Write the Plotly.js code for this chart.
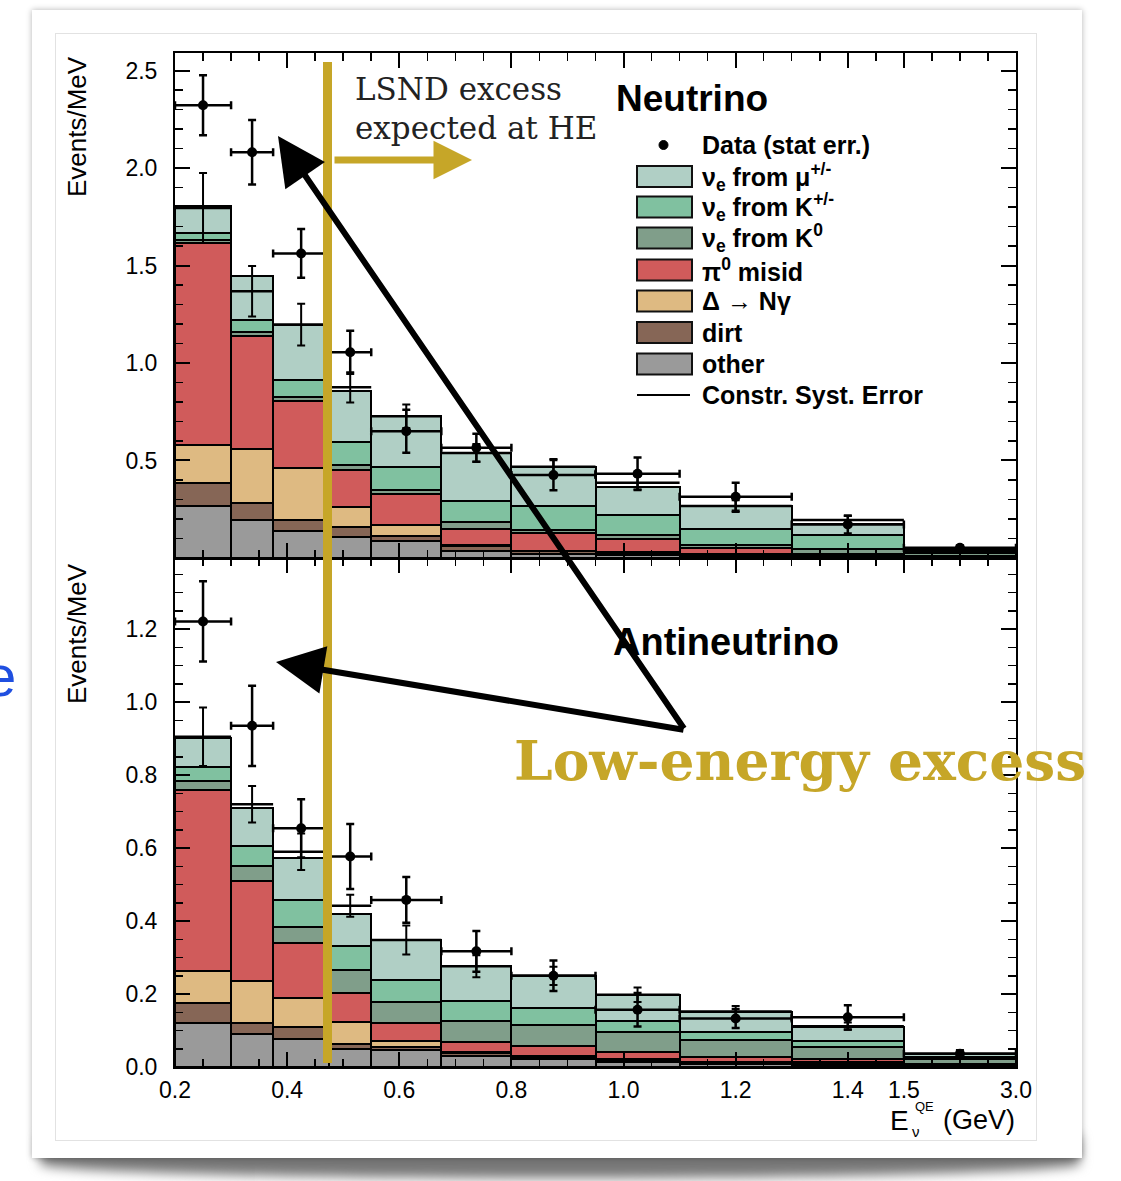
<!DOCTYPE html>
<html><head><meta charset="utf-8">
<script src="https://cdn.plot.ly/plotly-3.0.1.min.js"></script>
<style>
html,body{margin:0;padding:0;background:#fff;}
#wrap{position:relative;width:1121px;height:1181px;overflow:hidden;background:#fff;}
#curl{position:absolute;left:40px;top:1136px;width:1040px;height:42px;background:#777;filter:blur(6px);border-radius:0 0 50% 50% / 0 0 35% 35%;}
#card{position:absolute;left:32px;top:10px;width:1050px;height:1148px;background:#fff;box-shadow:0 0 6px rgba(0,0,0,0.3);}
#inner{position:absolute;left:55px;top:33px;width:980px;height:1106px;border:1px solid #e2e2e2;}
#plot{position:absolute;left:0;top:0;width:1121px;height:1181px;}
</style></head>
<body><div id="wrap"><div id="curl"></div><div id="card"></div><div id="inner"></div><div id="plot"></div></div>
<script>
// ---------- data ----------
const binEdges = [0.2,0.3,0.375,0.475,0.55,0.675,0.8,0.95,1.1,1.3,1.5,3.0];
const xTickVals = [0.2,0.4,0.6,0.8,1.0,1.2,1.4,1.5,3.0];
const xTickText = ['0.2','0.4','0.6','0.8','1.0','1.2','1.4','1.5','3.0'];
const yTopTicks = [0.5,1.0,1.5,2.0,2.5];
const yBotTicks = [0.0,0.2,0.4,0.6,0.8,1.0,1.2];

// Neutrino mode (top panel), Events/MeV per component
const nuOther = [0.266,0.197,0.138,0.107,0.086,0.035,0.018,0.015,0.010,0.005,0.003];
const nuDirt  = [0.120,0.086,0.059,0.051,0.026,0.026,0.017,0.012,0.006,0.003,0.002];
const nuDelta = [0.193,0.277,0.266,0.104,0.058,0.005,0.003,0.002,0.002,0.002,0.001];
const nuPi0   = [1.034,0.581,0.341,0.187,0.160,0.084,0.091,0.066,0.034,0.010,0.004];
const nuK0    = [0.017,0.017,0.021,0.027,0.017,0.034,0.017,0.025,0.017,0.024,0.015];
const nuKpm   = [0.038,0.065,0.090,0.118,0.119,0.107,0.120,0.098,0.081,0.076,0.013];
const nuMu    = [0.136,0.222,0.282,0.261,0.261,0.248,0.202,0.144,0.116,0.055,0.010];
const nuMcTotal = [1.795,1.368,1.197,0.875,0.727,0.539,0.468,0.386,0.266,0.195,0.050];
const nuMcErr   = [0.180,0.130,0.107,0.077,0.060,0.045,0.040,0.035,0.030,0.020,0.005];
const nuData    = [2.322,2.081,1.562,1.055,0.650,0.565,0.425,0.432,0.314,0.172,0.052];
const nuDataErr = [0.154,0.165,0.125,0.110,0.110,0.072,0.078,0.083,0.072,0.046,0.012];

// Antineutrino mode (bottom panel)
const nbOther = [0.120,0.090,0.077,0.049,0.046,0.030,0.022,0.015,0.008,0.006,0.002];
const nbDirt  = [0.055,0.030,0.032,0.014,0.010,0.008,0.006,0.005,0.003,0.003,0.002];
const nbDelta = [0.087,0.116,0.079,0.059,0.016,0.002,0.003,0.002,0.002,0.004,0.001];
const nbPi0   = [0.498,0.273,0.151,0.081,0.048,0.028,0.027,0.018,0.014,0.009,0.003];
const nbK0    = [0.024,0.043,0.046,0.063,0.057,0.059,0.057,0.055,0.047,0.032,0.014];
const nbKpm   = [0.037,0.053,0.073,0.066,0.061,0.055,0.048,0.032,0.023,0.018,0.006];
const nbMu    = [0.082,0.105,0.114,0.087,0.109,0.094,0.087,0.071,0.055,0.037,0.008];
const nbMcTotal = [0.905,0.720,0.590,0.442,0.348,0.276,0.250,0.198,0.152,0.112,0.036];
const nbMcErr   = [0.080,0.050,0.050,0.030,0.040,0.030,0.025,0.020,0.015,0.010,0.003];
const nbData    = [1.221,0.935,0.654,0.577,0.458,0.317,0.250,0.157,0.133,0.136,0.036];
const nbDataErr = [0.110,0.110,0.080,0.089,0.063,0.056,0.042,0.046,0.026,0.033,0.010];

const compNames  = ['other','dirt','Δ → Nγ','π0 misid','νe from K0','νe from K+/-','νe from μ+/-'];
const compColors = ['#9a9a9a','#866656','#deba82','#d05b5b','#809e8a','#80c1a0','#b0cfc5'];
const legendLabels = ['ν<sub>e</sub> from μ<sup>+/-</sup>','ν<sub>e</sub> from K<sup>+/-</sup>','ν<sub>e</sub> from K<sup>0</sup>','π<sup>0</sup> misid','Δ → Nγ','dirt','other'];
const legendColors = ['#b0cfc5','#80c1a0','#809e8a','#d05b5b','#deba82','#866656','#9a9a9a'];

// ---------- helpers ----------
const FONT = 'Liberation Sans, Arial, Helvetica, sans-serif';
const GOLD = '#c6a628';
// x axis is linear up to 1.5 GeV, last bin (1.5-3.0) compressed
function disp(e){ return e <= 1.5 ? e : 1.5 + (e - 1.5) * (0.2 / 1.5); }
const lo = binEdges.slice(0,-1).map(disp), hi = binEdges.slice(1).map(disp);
const centers = lo.map((l,i)=>(l+hi[i])/2);
const widths = lo.map((l,i)=>hi[i]-l);
const halfW = widths.map(w=>w/2);
// paper coordinates from pixel positions (plot area 175..1016 x 53..1067)
const P = x => (x-175)/841, Q = y => (1067-y)/1014;

const traces = [];
function addPanel(comps, mcTot, mcErr, data, dataErr, xa, ya){
  comps.forEach((vals,k)=>{
    traces.push({type:'bar', x:centers, y:vals, width:widths, name:compNames[k],
      marker:{color:compColors[k], line:{color:'#000', width:2}},
      xaxis:xa, yaxis:ya, showlegend:false, hoverinfo:'skip'});
  });
  const lx=[], ly=[];
  mcTot.forEach((t,i)=>{ lx.push(lo[i],hi[i],null); ly.push(t,t,null); });
  traces.push({type:'scatter', mode:'lines', x:lx, y:ly, line:{color:'#000', width:2.5},
    xaxis:xa, yaxis:ya, showlegend:false, hoverinfo:'skip'});
  traces.push({type:'scatter', mode:'markers', x:centers, y:mcTot,
    marker:{color:'rgba(0,0,0,0)', size:2},
    error_y:{type:'data', array:mcErr, visible:true, color:'#000', thickness:2, width:4},
    xaxis:xa, yaxis:ya, showlegend:false, hoverinfo:'skip'});
  traces.push({type:'scatter', mode:'markers', x:centers, y:data,
    marker:{color:'#000', size:10},
    error_y:{type:'data', array:dataErr, visible:true, color:'#000', thickness:2.5, width:4},
    error_x:{type:'data', array:halfW, visible:true, color:'#000', thickness:2.5, width:4},
    xaxis:xa, yaxis:ya, showlegend:false, hoverinfo:'skip'});
}
addPanel([nuOther,nuDirt,nuDelta,nuPi0,nuK0,nuKpm,nuMu], nuMcTotal, nuMcErr, nuData, nuDataErr, 'x2','y2');
addPanel([nbOther,nbDirt,nbDelta,nbPi0,nbK0,nbKpm,nbMu], nbMcTotal, nbMcErr, nbData, nbDataErr, 'x','y');

const axBase = {showline:true, linewidth:2, linecolor:'#000', mirror:'ticks', ticks:'inside',
  ticklen:15, tickwidth:2, tickcolor:'#000', showgrid:false, zeroline:false,
  tickfont:{family:FONT, size:23, color:'#000'}};
const xRange = [0.2, disp(3.0)];
const xMinor = {ticks:'inside', dtick:0.05, tick0:0.2, ticklen:8, tickwidth:1.5, tickcolor:'#000', showgrid:false};

const shapes = [];
const annotations = [];
// gold line at the LSND high-energy threshold
shapes.push({type:'line', xref:'x', yref:'paper', x0:0.472, x1:0.472, y0:Q(1063), y1:Q(62),
  line:{color:GOLD, width:9}});
// legend
const rowY = [176.5,207,238,270,301,332.5,364];
legendLabels.forEach((lab,i)=>{
  shapes.push({type:'rect', xref:'paper', yref:'paper', x0:P(637), x1:P(692), y0:Q(rowY[i]+10.5), y1:Q(rowY[i]-10.5),
    fillcolor:legendColors[i], line:{color:'#111', width:2}});
  annotations.push({xref:'paper', yref:'paper', x:P(700), y:Q(rowY[i]), xanchor:'left', yanchor:'middle',
    text:'<b>'+lab+'</b>', showarrow:false, font:{family:FONT, size:25, color:'#000'}});
});
shapes.push({type:'circle', xref:'paper', yref:'paper', x0:P(659), x1:P(668), y0:Q(149.5), y1:Q(140.5),
  fillcolor:'#000', line:{color:'#000', width:1}});
annotations.push({xref:'paper', yref:'paper', x:P(700), y:Q(145), xanchor:'left', yanchor:'middle',
  text:'<b>Data (stat err.)</b>', showarrow:false, font:{family:FONT, size:25, color:'#000'}});
shapes.push({type:'line', xref:'paper', yref:'paper', x0:P(637), x1:P(690), y0:Q(395), y1:Q(395),
  line:{color:'#000', width:2}});
annotations.push({xref:'paper', yref:'paper', x:P(700), y:Q(395), xanchor:'left', yanchor:'middle',
  text:'<b>Constr. Syst. Error</b>', showarrow:false, font:{family:FONT, size:25, color:'#000'}});

// panel labels
annotations.push({xref:'paper', yref:'paper', x:P(614), y:Q(98), xanchor:'left', yanchor:'middle',
  text:'<b>Neutrino</b>', showarrow:false, font:{family:FONT, size:37, color:'#000'}});
annotations.push({xref:'paper', yref:'paper', x:P(611), y:Q(642), xanchor:'left', yanchor:'middle',
  text:'<b>Antineutrino</b>', showarrow:false, font:{family:FONT, size:38, color:'#000'}});
// axis titles
annotations.push({xref:'paper', yref:'paper', x:P(77), y:Q(127), xanchor:'center', yanchor:'middle', textangle:-90,
  text:'Events/MeV', showarrow:false, font:{family:FONT, size:26, color:'#000'}});
annotations.push({xref:'paper', yref:'paper', x:P(77), y:Q(634), xanchor:'center', yanchor:'middle', textangle:-90,
  text:'Events/MeV', showarrow:false, font:{family:FONT, size:26, color:'#000'}});
annotations.push({xref:'paper', yref:'paper', x:P(899), y:Q(1120), xanchor:'center', yanchor:'middle',
  text:'E', showarrow:false, font:{family:FONT, size:28, color:'#000'}});
annotations.push({xref:'paper', yref:'paper', x:P(924), y:Q(1106), xanchor:'center', yanchor:'middle',
  text:'QE', showarrow:false, font:{family:FONT, size:13, color:'#000'}});
annotations.push({xref:'paper', yref:'paper', x:P(916), y:Q(1131), xanchor:'center', yanchor:'middle',
  text:'ν', showarrow:false, font:{family:FONT, size:15, color:'#000'}});
annotations.push({xref:'paper', yref:'paper', x:P(941), y:Q(1120), xanchor:'left', yanchor:'middle',
  text:'(GeV)', showarrow:false, font:{family:FONT, size:27, color:'#000'}});
// LSND text
annotations.push({xref:'paper', yref:'paper', x:P(353), y:Q(89), xanchor:'left', yanchor:'middle',
  text:'LSND excess', showarrow:false, font:{family:'DejaVu Serif, serif', size:31, color:'#222'}});
annotations.push({xref:'paper', yref:'paper', x:P(353), y:Q(128), xanchor:'left', yanchor:'middle',
  text:'expected at HE', showarrow:false, font:{family:'DejaVu Serif, serif', size:31, color:'#222'}});
// gold arrow
annotations.push({xref:'paper', yref:'paper', x:P(472), y:Q(160), ax:-139, ay:0, text:'', showarrow:true,
  arrowhead:2, arrowsize:1.1, arrowwidth:7, arrowcolor:GOLD, standoff:0, startstandoff:0});
// black arrows
annotations.push({xref:'paper', yref:'paper', x:P(278), y:Q(136), ax:407, ay:594, text:'', showarrow:true,
  arrowhead:2, arrowsize:1.6, arrowwidth:6, arrowcolor:'#000', standoff:0});
annotations.push({xref:'paper', yref:'paper', x:P(276), y:Q(662), ax:409, ay:68, text:'', showarrow:true,
  arrowhead:2, arrowsize:1.6, arrowwidth:6, arrowcolor:'#000', standoff:0});
// Low-energy excess
annotations.push({xref:'paper', yref:'paper', x:P(512), y:Q(760), xanchor:'left', yanchor:'middle',
  text:'<b>Low-energy excess</b>', showarrow:false, font:{family:'DejaVu Serif, serif', size:55, color:GOLD}});
// cropped slide text at left edge
annotations.push({xref:'paper', yref:'paper', x:P(18), y:Q(676), xanchor:'right', yanchor:'middle',
  text:'e', showarrow:false, font:{family:FONT, size:58, color:'#1f4fe0'}});

const layout = {
  width:1121, height:1181,
  margin:{l:175, r:105, t:53, b:114, pad:0},
  paper_bgcolor:'rgba(0,0,0,0)', plot_bgcolor:'#fff',
  barmode:'stack', showlegend:false,
  xaxis:Object.assign({}, axBase, {anchor:'y', domain:[0,1], range:xRange,
    tickmode:'array', tickvals:xTickVals.map(disp), ticktext:xTickText, ticklabelstandoff:1, minor:xMinor}),
  xaxis2:Object.assign({}, axBase, {anchor:'y2', domain:[0,1], range:xRange,
    tickmode:'array', tickvals:xTickVals.map(disp), showticklabels:false, minor:xMinor}),
  yaxis:Object.assign({}, axBase, {anchor:'x', domain:[0,0.502], range:[0,1.395],
    tickmode:'array', tickvals:yBotTicks, ticktext:yBotTicks.map(v=>v.toFixed(1)), ticklabelstandoff:11,
    minor:{ticks:'inside', dtick:0.05, tick0:0, ticklen:8, tickwidth:1.5, tickcolor:'#000', showgrid:false}}),
  yaxis2:Object.assign({}, axBase, {anchor:'x2', domain:[0.502,1], range:[0,2.59],
    tickmode:'array', tickvals:yTopTicks, ticktext:yTopTicks.map(v=>v.toFixed(1)), ticklabelstandoff:11,
    minor:{ticks:'inside', dtick:0.1, tick0:0, ticklen:8, tickwidth:1.5, tickcolor:'#000', showgrid:false}}),
  shapes:shapes, annotations:annotations
};
Plotly.newPlot('plot', traces, layout, {staticPlot:true, displayModeBar:false});
</script></body></html>
